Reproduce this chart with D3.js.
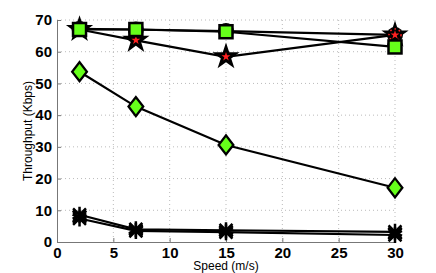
<!DOCTYPE html>
<html>
<head>
<meta charset="utf-8">
<script src="https://cdn.jsdelivr.net/npm/d3@7"></script>
<style>
  body { margin: 0; background: #fff; }
  text { font-family: "Liberation Sans", Arial, sans-serif; }
</style>
</head>
<body>
<svg id="chart" width="436" height="273"></svg>
<script>
// speeds (m/s) and throughput (Kbps) per scheme
const speeds = [2, 7, 15, 30];
const squareSeries = [67, 67, 66.3, 61.5];
const circleSeries = [67.2, 67, 66.5, 65.3];
const starSeries = [67, 63.6, 58.4, 65.3];
const diamondSeries = [53.7, 42.7, 30.6, 17.1];
const asteriskA = [8.6, 4.0, 3.7, 3.2];
const asteriskB = [7.4, 3.5, 3.1, 2.2];
const xTicks = [0, 5, 10, 15, 20, 25, 30];
const yTicks = [0, 10, 20, 30, 40, 50, 60, 70];

const svg = d3.select("#chart");
const margin = { top: 20, right: 41, bottom: 31, left: 57 };
const width = 436 - margin.left - margin.right;
const height = 273 - margin.top - margin.bottom;

const g = svg.append("g")
  .attr("transform", `translate(${margin.left},${margin.top})`);

const x = d3.scaleLinear().domain([0, 30]).range([0, width]);
const y = d3.scaleLinear().domain([0, 70]).range([height, 0]);

// dotted grid
g.append("g").selectAll("line")
  .data(xTicks.slice(1))
  .enter().append("line")
  .attr("x1", d => x(d)).attr("x2", d => x(d))
  .attr("y1", 0).attr("y2", height)
  .attr("stroke", "#bbb").attr("stroke-width", 1)
  .attr("stroke-dasharray", "1,3");
g.append("g").selectAll("line")
  .data(yTicks.slice(1))
  .enter().append("line")
  .attr("x1", 0).attr("x2", width)
  .attr("y1", d => y(d)).attr("y2", d => y(d))
  .attr("stroke", "#bbb").attr("stroke-width", 1)
  .attr("stroke-dasharray", "1,3");

// axes
const xAxis = g.append("g")
  .attr("transform", `translate(0,${height})`)
  .call(d3.axisBottom(x).tickValues(xTicks).tickSizeInner(-4).tickSizeOuter(0).tickPadding(5));
const yAxis = g.append("g")
  .call(d3.axisLeft(y).tickValues(yTicks).tickSizeInner(-4).tickSizeOuter(0).tickPadding(5));
[xAxis, yAxis].forEach(a => {
  a.select(".domain").attr("stroke", "#777");
  a.selectAll(".tick line").attr("stroke", "#777");
  a.selectAll(".tick text")
    .attr("fill", "#000")
    .style("font-size", "15px")
    .style("font-weight", "bold")
    .style("font-family", "'Liberation Sans', Arial, sans-serif");
});
xAxis.selectAll(".tick text").attr("dy", "0.7em");

// axis labels
svg.append("text")
  .attr("x", margin.left + width / 2).attr("y", 270)
  .attr("text-anchor", "middle")
  .style("font-size", "12px")
  .text("Speed (m/s)");
svg.append("text")
  .attr("transform", `translate(32,${margin.top + height / 2}) rotate(-90)`)
  .attr("text-anchor", "middle")
  .style("font-size", "12px")
  .text("Throughput (Kbps)");

const line = d3.line().x(d => x(d[0])).y(d => y(d[1]));
const zip = vals => speeds.map((s, i) => [s, vals[i]]);

function drawLine(vals) {
  g.append("path")
    .datum(zip(vals))
    .attr("d", line)
    .attr("fill", "none")
    .attr("stroke", "#000")
    .attr("stroke-width", 2.2);
}

[asteriskA, asteriskB, diamondSeries, starSeries, circleSeries, squareSeries].forEach(drawLine);

const star = d3.symbol().type(d3.symbolStar);
const asterisk = d3.symbol().type(d3.symbolAsterisk);

function markers(vals, draw) {
  const sel = g.append("g").selectAll("g")
    .data(zip(vals))
    .enter().append("g")
    .attr("transform", d => `translate(${x(d[0])},${y(d[1])})`);
  draw(sel);
}

// asterisks
[asteriskA, asteriskB].forEach(vals => markers(vals, s => {
  s.append("path").attr("d", d3.symbol().type(d3.symbolTimes).size(110))
    .attr("stroke", "#000").attr("stroke-width", 2.5);
  s.append("path").attr("d", d3.symbol().type(d3.symbolPlus).size(130))
    .attr("fill", "#000");
  s.append("path").attr("d", asterisk.size(180))
    .attr("fill", "none").attr("stroke", "#000").attr("stroke-width", 2.5);
}));

// diamonds
markers(diamondSeries, s => {
  s.append("path").attr("d", d3.symbol().type(d3.symbolSquare).size(150))
    .attr("transform", "scale(0.85,1.1) rotate(45)")
    .attr("fill", "#66ff1a").attr("stroke", "#000").attr("stroke-width", 2.4);
});

// circles
markers(circleSeries, s => {
  s.append("circle").attr("r", 8).attr("fill", "#000");
});

// stars
markers(starSeries, s => {
  s.append("path").attr("d", star.size(230)).attr("fill", "#000");
  s.append("path").attr("d", star.size(25)).attr("fill", "#ff2020");
});

// red dotted ring on the circle at 30 m/s
g.append("circle")
  .attr("cx", x(speeds[3])).attr("cy", y(circleSeries[3]))
  .attr("r", 6).attr("fill", "none")
  .attr("stroke", "#ff2020").attr("stroke-width", 1.5)
  .attr("stroke-dasharray", "1.5,3");

// squares
markers(squareSeries, s => {
  s.append("rect").attr("x", -6.5).attr("y", -6.5)
    .attr("width", 13).attr("height", 13)
    .attr("fill", "#66ff1a").attr("stroke", "#000").attr("stroke-width", 2.5);
});
</script>
</body>
</html>
